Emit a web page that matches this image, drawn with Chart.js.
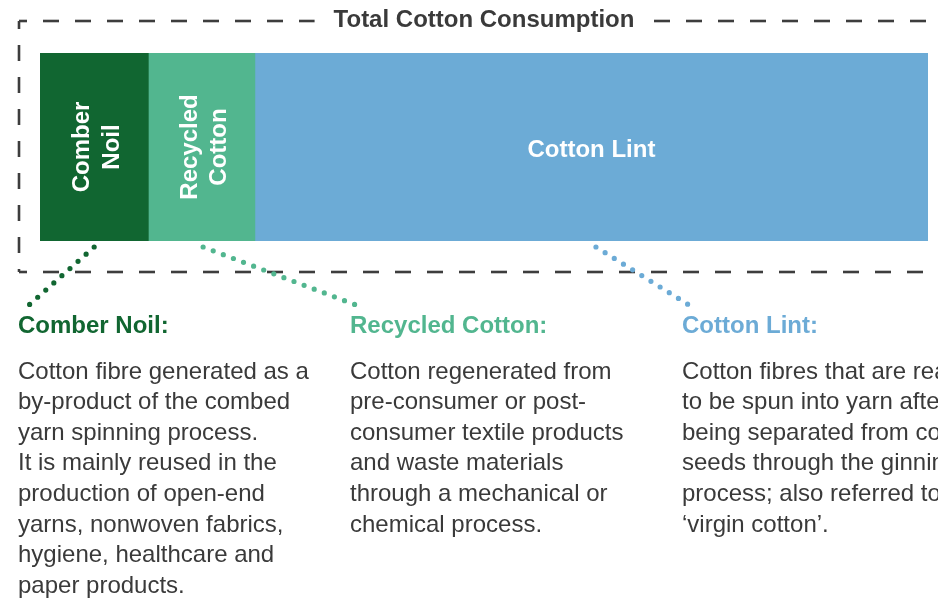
<!DOCTYPE html>
<html>
<head>
<meta charset="utf-8">
<script src="https://cdn.jsdelivr.net/npm/chart.js@4/dist/chart.umd.min.js"></script>
<style>
  html, body { margin: 0; padding: 0; background: #ffffff; overflow: hidden; }
  #wrap { width: 938px; height: 598px; position: relative; }
</style>
</head>
<body>
<div id="wrap"><canvas id="c" width="938" height="598"></canvas></div>
<script>
// ---- Data ----
const chartTitle = "Total Cotton Consumption";
const categories = ["Comber Noil", "Recycled Cotton", "Cotton Lint"];
const shares = [12.2, 12.0, 75.8];           // share of total (%)
const barLabelLines = [["Comber", "Noil"], ["Recycled", "Cotton"], ["Cotton Lint"]];
const headings = ["Comber Noil:", "Recycled Cotton:", "Cotton Lint:"];
const comberText = ["Cotton fibre generated as a", "by-product of the combed", "yarn spinning process.",
  "It is mainly reused in the", "production of open-end", "yarns, nonwoven fabrics,",
  "hygiene, healthcare and", "paper products."];
const recycledText = ["Cotton regenerated from", "pre-consumer or post-", "consumer textile products",
  "and waste materials", "through a mechanical or", "chemical process."];
const lintText = ["Cotton fibres that are ready", "to be spun into yarn after", "being separated from cotton",
  "seeds through the ginning", "process; also referred to as", "\u2018virgin cotton\u2019."];
const colors = ["#116631", "#52b68f", "#6cabd6"];

// ---- Style ----
const FONT = '"Liberation Sans", Arial, Helvetica, sans-serif';
const FS = 24;
const DARK = "#3a3a3a";

const annotations = {
  id: "annotations",
  afterDraw(chart) {
    const ctx = chart.ctx;
    const area = chart.chartArea;
    ctx.save();

    // dashed frame with title gap
    ctx.strokeStyle = "#3d3d3d";
    ctx.lineWidth = 2.6;
    ctx.setLineDash([16, 16]);
    const L = 19, T = 21, B = 272, R = 955;
    ctx.font = "bold " + FS + "px " + FONT;
    const tw = ctx.measureText(chartTitle).width;
    const tcx = 484;
    const gapL = tcx - tw / 2 - 19, gapR = tcx + tw / 2 + 18;
    const seg = (x1, y1, x2, y2, off) => {
      ctx.lineDashOffset = off;
      ctx.beginPath(); ctx.moveTo(x1, y1); ctx.lineTo(x2, y2); ctx.stroke();
    };
    seg(L, T, gapL, T, 8);
    seg(R, T, gapR, T, 3);
    seg(L, T, L, B, 8);
    seg(L, B, R, B, 8);
    ctx.setLineDash([]);

    // title
    ctx.fillStyle = DARK;
    ctx.textAlign = "center";
    ctx.textBaseline = "alphabetic";
    ctx.fillText(chartTitle, tcx, 26.5);

    // labels inside bar segments
    const cy = (area.top + area.bottom) / 2;
    ctx.fillStyle = "#ffffff";
    ctx.font = "bold " + FS + "px " + FONT;
    chart.data.datasets.forEach((ds, i) => {
      const el = chart.getDatasetMeta(i).data[0];
      const x0 = Math.min(el.base, el.x), x1 = Math.max(el.base, el.x);
      const cx = (x0 + x1) / 2;
      const lines = barLabelLines[i];
      if (lines.length === 1) {
        ctx.save();
        ctx.textAlign = "center";
        ctx.fillText(lines[0], cx, cy + 9.5);
        ctx.restore();
      } else {
        ctx.save();
        ctx.translate(cx, cy);
        ctx.rotate(-Math.PI / 2);
        ctx.textAlign = "center";
        const step = 29.7;
        lines.forEach((ln, k) => {
          const off = (k - (lines.length - 1) / 2) * step + 9.8;
          ctx.fillText(ln, 0, off);
        });
        ctx.restore();
      }
    });

    // dotted connectors
    const colX = [18, 350, 682];
    const starts = [];
    chart.data.datasets.forEach((ds, i) => {
      const el = chart.getDatasetMeta(i).data[0];
      const x0 = Math.min(el.base, el.x), x1 = Math.max(el.base, el.x);
      starts.push((x0 + x1) / 2);
    });
    const conn = [
      [starts[0], 247, colX[0] + 11, 305],
      [starts[1] + 1.5, 247, colX[1] + 6, 305],
      [starts[2] + 4.5, 247, colX[2] + 7, 305]
    ];
    ctx.lineCap = "round";
    ctx.lineWidth = 5.2;
    conn.forEach((c, i) => {
      ctx.strokeStyle = colors[i];
      ctx.setLineDash([0, 10.8]);
      ctx.lineDashOffset = 0;
      ctx.beginPath(); ctx.moveTo(c[0], c[1]); ctx.lineTo(c[2], c[3]); ctx.stroke();
    });
    ctx.setLineDash([]);

    // headings and descriptions
    const texts = [comberText, recycledText, lintText];
    ctx.textAlign = "left";
    ctx.textBaseline = "alphabetic";
    headings.forEach((h, i) => {
      ctx.fillStyle = colors[i];
      ctx.font = "bold " + FS + "px " + FONT;
      ctx.fillText(h, colX[i], 333.3);
      ctx.fillStyle = DARK;
      ctx.font = FS + "px " + FONT;
      texts[i].forEach((ln, k) => ctx.fillText(ln, colX[i], 378.5 + k * 30.6));
    });
    ctx.restore();
  }
};

new Chart(document.getElementById("c"), {
  type: "bar",
  data: {
    labels: [chartTitle],
    datasets: categories.map((name, i) => ({
      label: name,
      data: [shares[i]],
      backgroundColor: colors[i],
      borderWidth: 0,
      barPercentage: 1,
      categoryPercentage: 1
    }))
  },
  options: {
    indexAxis: "y",
    responsive: false,
    animation: false,
    layout: { padding: { left: 40, right: 10, top: 53, bottom: 357 } },
    scales: {
      x: { stacked: true, min: 0, max: 100, display: false },
      y: { stacked: true, display: false }
    },
    plugins: { legend: { display: false }, tooltip: { enabled: false }, title: { display: false } }
  },
  plugins: [annotations]
});
</script>
</body>
</html>
